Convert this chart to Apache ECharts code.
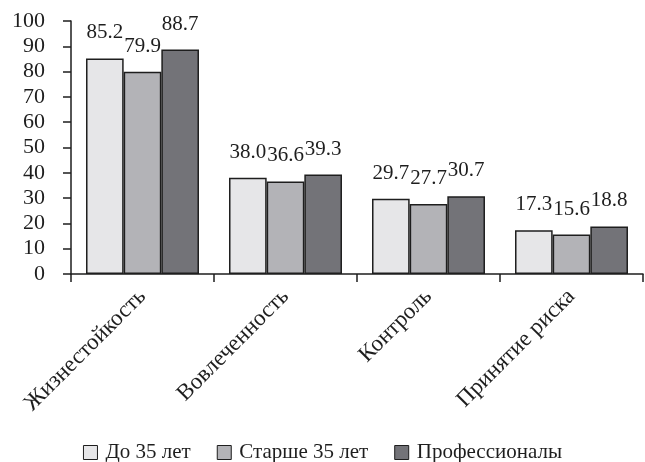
<!DOCTYPE html>
<html>
<head>
<meta charset="utf-8">
<script src="https://cdn.jsdelivr.net/npm/echarts@6/dist/echarts.min.js"></script>
<style>
  html, body { margin: 0; padding: 0; background: #fff; }
  #chart { width: 645px; height: 462px; }
</style>
</head>
<body>
<div id="chart"></div>
<script>
// Hardiness scale scores by group
const categories = ['Жизнестойкость', 'Вовлеченность', 'Контроль', 'Принятие риска'];
const seriesNames = ['До 35 лет', 'Старше 35 лет', 'Профессионалы'];
const under35 = [85.2, 38.0, 29.7, 17.3];
const over35 = [79.9, 36.6, 27.7, 15.6];
const professionals = [88.7, 39.3, 30.7, 18.8];
const yTicks = [0, 10, 20, 30, 40, 50, 60, 70, 80, 90, 100];

const FONT = '"Liberation Serif", "Times New Roman", serif';
const INK = '#1e1e1e';
const fills = ['#e6e6e8', '#b3b3b7', '#737378'];

function makeSeries(name, values, color) {
  return {
    name: name,
    type: 'bar',
    data: values,
    barGap: '0%',
    barCategoryGap: '21%',
    itemStyle: { color: color, borderColor: INK, borderWidth: 1.5 },
    label: {
      show: true,
      position: 'top',
      distance: 15,
      fontFamily: FONT,
      fontSize: 21,
      color: INK,
      formatter: p => p.value.toFixed(1)
    },
    emphasis: { disabled: true }
  };
}

const chart = echarts.init(document.getElementById('chart'), null, { renderer: 'canvas' });
chart.setOption({
  animation: false,
  textStyle: { fontFamily: FONT, color: INK },
  grid: { left: 71, right: 2, top: 21, bottom: 188, containLabel: false },
  legend: {
    top: 437,
    left: 'center',
    icon: 'rect',
    itemWidth: 14,
    itemHeight: 14,
    itemGap: 26,
    selectedMode: false,
    itemStyle: { borderColor: INK, borderWidth: 1 },
    textStyle: { fontFamily: FONT, fontSize: 21, color: INK, padding: [0, 0, 0, 3] },
    data: seriesNames
  },
  xAxis: {
    type: 'category',
    data: categories,
    axisLine: { lineStyle: { color: INK, width: 1.5 } },
    axisTick: { show: true, length: 8, alignWithLabel: false, lineStyle: { color: INK, width: 1.5 } },
    axisLabel: {
      rotate: 45,
      margin: 19,
      interval: 0,
      fontFamily: FONT,
      fontSize: 23,
      color: INK
    }
  },
  yAxis: {
    type: 'value',
    min: yTicks[0],
    max: yTicks[yTicks.length - 1],
    interval: 10,
    axisLine: { show: true, lineStyle: { color: INK, width: 1.5 } },
    axisTick: { show: true, length: 8, lineStyle: { color: INK, width: 1.5 } },
    splitLine: { show: false },
    axisLabel: {
      margin: 26,
      fontFamily: FONT,
      fontSize: 22,
      color: INK
    }
  },
  series: [
    makeSeries(seriesNames[0], under35, fills[0]),
    makeSeries(seriesNames[1], over35, fills[1]),
    makeSeries(seriesNames[2], professionals, fills[2])
  ]
});
</script>
</body>
</html>
